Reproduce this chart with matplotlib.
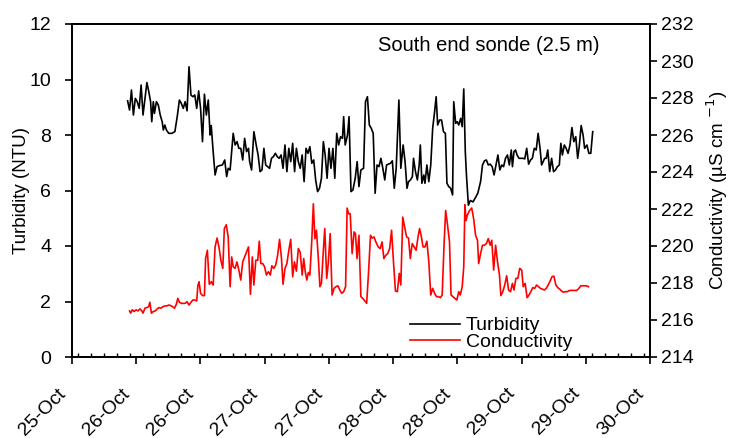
import matplotlib
matplotlib.use("Agg")
import matplotlib.pyplot as plt
import matplotlib.transforms as mtransforms
from matplotlib.ticker import MultipleLocator, FixedLocator

plt.rcParams['font.family'] = ['Liberation Sans', 'DejaVu Sans']

# ---- data (day of October, fractional) ----
turb_day = [26.183, 26.198, 26.213, 26.228, 26.243, 26.258, 26.273, 26.288, 26.303, 26.318,
            26.333, 26.348, 26.362, 26.371, 26.383, 26.392, 26.407, 26.422, 26.437, 26.452,
            26.461, 26.473, 26.485, 26.503, 26.527, 26.551, 26.571, 26.586, 26.601, 26.616,
            26.631, 26.646, 26.661, 26.676, 26.691, 26.706, 26.721, 26.736, 26.751, 26.766,
            26.781, 26.796, 26.811, 26.825, 26.834, 26.849, 26.864, 26.879, 26.900, 26.921,
            26.939, 26.954, 26.966, 26.981, 27.005, 27.020, 27.035, 27.049, 27.064, 27.079,
            27.094, 27.109, 27.124, 27.133, 27.148, 27.166, 27.184, 27.199, 27.214, 27.229,
            27.244, 27.258, 27.273, 27.288, 27.303, 27.318, 27.333, 27.348, 27.363, 27.378,
            27.393, 27.408, 27.423, 27.438, 27.453, 27.468, 27.483, 27.497, 27.512, 27.527,
            27.542, 27.557, 27.572, 27.587, 27.602, 27.617, 27.632, 27.647, 27.662, 27.677,
            27.692, 27.707, 27.721, 27.736, 27.751, 27.766, 27.781, 27.796, 27.811, 27.826,
            27.841, 27.856, 27.865, 27.877, 27.895, 27.907, 27.922, 27.937, 27.955, 27.970,
            27.984, 27.999, 28.020, 28.035, 28.050, 28.065, 28.080, 28.095, 28.110, 28.125,
            28.140, 28.155, 28.170, 28.185, 28.199, 28.214, 28.229, 28.244, 28.259, 28.274,
            28.295, 28.310, 28.328, 28.343, 28.358, 28.370, 28.385, 28.400, 28.409, 28.424,
            28.439, 28.453, 28.462, 28.474, 28.489, 28.498, 28.513, 28.528, 28.543, 28.558,
            28.573, 28.585, 28.597, 28.612, 28.627, 28.642, 28.657, 28.669, 28.683, 28.698,
            28.713, 28.722, 28.737, 28.749, 28.761, 28.776, 28.788, 28.800, 28.812, 28.821,
            28.836, 28.851, 28.872, 28.893, 28.910, 28.931, 28.946, 28.961, 28.976, 28.991,
            29.006, 29.021, 29.036, 29.051, 29.066, 29.081, 29.096, 29.110, 29.125, 29.140,
            29.155, 29.170, 29.179, 29.191, 29.203, 29.215, 29.230, 29.245, 29.260, 29.275,
            29.290, 29.305, 29.320, 29.334, 29.349, 29.364, 29.379, 29.394, 29.406, 29.418,
            29.430, 29.442, 29.454, 29.469, 29.484, 29.499, 29.514, 29.529, 29.544, 29.556,
            29.568, 29.583, 29.597, 29.612, 29.627, 29.642, 29.657, 29.672, 29.687, 29.699,
            29.714, 29.729, 29.741, 29.759, 29.774, 29.789, 29.804]
turbidity = [9.23, 8.90, 9.62, 8.72, 9.32, 9.20, 8.96, 9.80, 8.72, 9.32,
             9.89, 9.56, 9.20, 8.48, 9.20, 8.78, 9.20, 9.08, 8.72, 8.48,
             8.18, 8.36, 8.18, 8.06, 8.06, 8.12, 8.72, 9.26, 9.14, 8.96,
             9.20, 8.87, 10.46, 9.44, 9.38, 9.44, 8.96, 9.59, 8.96, 7.76,
             9.47, 8.72, 9.26, 8.00, 8.34, 7.40, 6.56, 6.86, 6.90, 6.92,
             7.10, 6.50, 6.80, 6.74, 8.06, 7.64, 7.76, 7.52, 7.52, 7.10,
             7.88, 7.40, 7.52, 7.04, 6.74, 8.12, 7.64, 7.28, 6.68, 6.74,
             7.52, 6.92, 6.86, 6.80, 7.16, 7.22, 7.34, 7.22, 7.16, 7.28,
             6.80, 7.64, 6.68, 7.52, 7.04, 7.70, 6.68, 7.52, 7.04, 6.80,
             7.28, 6.32, 7.52, 7.34, 7.58, 6.98, 7.10, 6.38, 5.96, 6.08,
             6.44, 7.76, 7.28, 6.44, 7.52, 6.80, 7.52, 6.44, 8.06, 7.64,
             7.94, 7.88, 8.66, 7.64, 8.00, 8.66, 5.96, 6.02, 6.44, 7.04,
             6.14, 6.74, 6.80, 9.20, 9.38, 8.36, 8.24, 8.06, 5.90, 6.92,
             6.86, 7.16, 6.80, 6.38, 6.92, 6.95, 6.98, 7.07, 6.08, 6.80,
             9.26, 6.80, 7.64, 7.04, 6.08, 6.32, 6.38, 6.50, 7.16, 6.68,
             6.38, 6.92, 7.64, 6.26, 6.56, 6.26, 6.92, 6.32, 6.92, 8.24,
             8.84, 9.38, 8.36, 8.54, 8.54, 8.12, 8.06, 6.26, 6.14, 6.08,
             5.84, 9.20, 8.42, 8.48, 8.36, 8.60, 8.30, 9.66, 7.40, 6.56,
             5.47, 5.64, 5.59, 5.76, 5.91, 6.32, 6.92, 7.07, 7.10, 6.92,
             6.95, 6.86, 6.56, 6.92, 7.28, 6.74, 6.92, 6.86, 7.16, 7.28,
             6.92, 7.46, 6.86, 7.40, 7.46, 7.28, 7.16, 7.16, 7.16, 7.14,
             7.52, 6.95, 7.10, 7.16, 7.52, 7.46, 8.06, 7.52, 6.92, 7.04,
             7.16, 7.16, 7.46, 6.68, 7.16, 6.68, 6.74, 6.86, 6.92, 7.70,
             7.28, 7.64, 7.52, 7.34, 7.64, 8.27, 7.76, 7.94, 7.16, 7.58,
             8.34, 8.00, 7.52, 7.64, 7.34, 7.34, 8.12]

cond_day = [26.198, 26.207, 26.219, 26.234, 26.249, 26.264, 26.279, 26.294, 26.303, 26.318,
            26.332, 26.347, 26.356, 26.368, 26.383, 26.398, 26.413, 26.428, 26.443, 26.458,
            26.473, 26.488, 26.503, 26.518, 26.533, 26.548, 26.562, 26.574, 26.586, 26.601,
            26.616, 26.631, 26.646, 26.661, 26.676, 26.691, 26.706, 26.721, 26.730, 26.739,
            26.751, 26.766, 26.781, 26.790, 26.804, 26.819, 26.834, 26.849, 26.864, 26.879,
            26.894, 26.909, 26.924, 26.936, 26.951, 26.966, 26.981, 26.993, 27.005, 27.020,
            27.034, 27.049, 27.064, 27.079, 27.094, 27.109, 27.124, 27.139, 27.154, 27.166,
            27.181, 27.196, 27.208, 27.220, 27.235, 27.249, 27.264, 27.279, 27.294, 27.306,
            27.321, 27.336, 27.351, 27.366, 27.381, 27.393, 27.408, 27.423, 27.438, 27.453,
            27.468, 27.482, 27.497, 27.512, 27.527, 27.542, 27.554, 27.566, 27.578, 27.590,
            27.602, 27.617, 27.629, 27.641, 27.653, 27.668, 27.680, 27.692, 27.707, 27.718,
            27.733, 27.745, 27.760, 27.775, 27.790, 27.805, 27.820, 27.835, 27.850, 27.865,
            27.880, 27.892, 27.904, 27.916, 27.931, 27.946, 27.957, 27.969, 27.984, 27.999,
            28.014, 28.029, 28.044, 28.059, 28.074, 28.086, 28.101, 28.116, 28.134, 28.149,
            28.164, 28.178, 28.193, 28.208, 28.223, 28.238, 28.253, 28.268, 28.283, 28.298,
            28.310, 28.325, 28.340, 28.355, 28.370, 28.384, 28.399, 28.414, 28.429, 28.444,
            28.456, 28.468, 28.483, 28.498, 28.513, 28.528, 28.543, 28.558, 28.573, 28.588,
            28.603, 28.618, 28.632, 28.647, 28.659, 28.674, 28.689, 28.701, 28.716, 28.731,
            28.746, 28.761, 28.773, 28.788, 28.800, 28.809, 28.818, 28.827, 28.845, 28.862,
            28.877, 28.892, 28.907, 28.916, 28.931, 28.946, 28.961, 28.976, 28.991, 29.006,
            29.018, 29.033, 29.048, 29.063, 29.078, 29.089, 29.104, 29.119, 29.134, 29.149,
            29.164, 29.179, 29.191, 29.206, 29.221, 29.236, 29.251, 29.263, 29.278, 29.293,
            29.308, 29.322, 29.337, 29.352, 29.367, 29.382, 29.397, 29.412, 29.427, 29.442,
            29.457, 29.472, 29.487, 29.502, 29.517, 29.532, 29.547, 29.561, 29.576, 29.591,
            29.606, 29.621, 29.636, 29.651, 29.666, 29.681, 29.696, 29.711, 29.726, 29.741,
            29.755, 29.771]
conductivity = [216.49, 216.37, 216.55, 216.46, 216.55, 216.49, 216.60, 216.49, 216.37, 216.64,
                216.67, 216.72, 216.96, 216.37, 216.46, 216.49, 216.60, 216.67, 216.64, 216.72,
                216.76, 216.76, 216.81, 216.78, 216.72, 216.64, 216.85, 217.17, 216.96, 216.90,
                216.90, 216.90, 216.99, 216.81, 216.96, 217.08, 217.08, 217.03, 217.85, 218.07,
                217.44, 217.32, 217.32, 219.32, 219.77, 217.93, 218.07, 217.89, 219.95, 220.43,
                219.95, 219.23, 218.79, 220.94, 221.15, 220.49, 217.80, 219.41, 218.88, 218.79,
                219.14, 218.70, 218.16, 219.14, 219.41, 219.68, 219.95, 217.39, 219.41, 217.89,
                219.23, 219.23, 220.26, 219.05, 219.05, 218.88, 218.43, 218.61, 218.43, 218.93,
                218.79, 218.97, 219.50, 220.36, 219.32, 217.93, 218.79, 219.05, 219.77, 220.36,
                218.34, 219.14, 218.64, 219.86, 219.65, 218.43, 219.32, 218.61, 218.16, 218.57,
                218.43, 220.31, 222.28, 220.40, 220.85, 219.32, 217.80, 217.98, 219.77, 220.94,
                218.25, 219.05, 220.67, 217.35, 217.71, 217.80, 217.85, 217.62, 217.44, 217.53,
                217.80, 222.05, 221.74, 221.74, 219.59, 220.76, 220.67, 219.32, 220.58, 217.26,
                217.17, 217.03, 216.90, 218.61, 220.58, 220.43, 220.49, 220.22, 219.95, 219.86,
                220.22, 219.32, 219.50, 219.59, 219.86, 220.85, 219.14, 217.57, 217.53, 218.52,
                217.89, 221.56, 221.03, 220.49, 220.43, 219.32, 220.13, 219.95, 219.77, 220.49,
                220.94, 220.58, 219.95, 219.95, 220.26, 219.14, 217.35, 217.71, 217.44, 217.26,
                217.26, 217.21, 217.35, 220.13, 221.92, 221.12, 220.22, 217.35, 217.26, 217.17,
                217.08, 217.53, 217.35, 217.80, 218.88, 222.23, 221.38, 221.65, 221.92, 222.05,
                221.47, 220.58, 220.31, 219.05, 219.59, 220.04, 220.04, 220.13, 220.40, 220.04,
                220.31, 218.70, 220.04, 219.14, 218.43, 217.32, 217.53, 217.89, 218.39, 217.62,
                217.53, 217.98, 217.62, 218.25, 218.25, 218.79, 218.70, 217.80, 217.98, 217.21,
                217.35, 217.53, 217.75, 217.71, 217.89, 217.80, 217.71, 217.67, 217.62, 217.71,
                217.89, 218.10, 218.34, 218.37, 217.89, 217.75, 217.67, 217.57, 217.50, 217.53,
                217.53, 217.59, 217.60, 217.60, 217.60, 217.60, 217.71, 217.85, 217.85, 217.85,
                217.85, 217.80]

tick_days = [25.75, 26.25, 26.75, 27.25, 27.75, 28.25, 28.75, 29.25, 29.75, 30.25]
tick_labels = ['25-Oct', '26-Oct', '26-Oct', '27-Oct', '27-Oct',
               '28-Oct', '28-Oct', '29-Oct', '29-Oct', '30-Oct']

# ---- figure ----
fig = plt.figure(figsize=(7.33, 4.38), dpi=100)
ax = fig.add_axes([72/733, 1-357/438, (650-72)/733, (357-24)/438])
ax2 = ax.twinx()

l1, = ax.plot(turb_day, turbidity, color='black', lw=1.2)
l2, = ax2.plot(cond_day, conductivity, color='#ff0000', lw=1.2)

ax.set_xlim(25.75, 30.25)
ax.set_ylim(0, 12)
ax2.set_ylim(214, 232)
ax.set_yticks(range(0, 13, 2))
ax2.set_yticks(range(214, 233, 2))

ax.xaxis.set_major_locator(FixedLocator(tick_days))
ax.set_xticklabels(tick_labels, rotation=45, ha='right', va='center',
                   rotation_mode='anchor')
ax.xaxis.set_minor_locator(MultipleLocator(0.1))
ax.tick_params(axis='x', which='major', direction='out', length=5, width=1.2, pad=19.5, labelsize=14)
ax.tick_params(axis='x', which='minor', direction='in', length=3, width=1.0)
ax.tick_params(axis='y', direction='out', length=5, width=1.2, labelsize=14, pad=10)
ax2.tick_params(axis='y', direction='out', length=5, width=1.2, labelsize=14, pad=3)

shift = mtransforms.ScaledTranslation(-9/100, 0, fig.dpi_scale_trans)
for lbl in ax.get_xticklabels():
    lbl.set_transform(lbl.get_transform() + shift)

for a in (ax, ax2):
    for s in a.spines.values():
        s.set_linewidth(1.3)

ax.set_ylabel('Turbidity (NTU)', fontsize=13.5)
ax.yaxis.set_label_coords(-0.072, 0.5)
ax2.set_ylabel('Conductivity (µS cm $^{-1}$)', fontsize=13.5, labelpad=8)

ax.text(0.913, 0.935, 'South end sonde (2.5 m)', transform=ax.transAxes,
        ha='right', va='center', fontsize=14.5)

fig.legend([l1, l2], ['Turbidity', 'Conductivity'], loc='upper left',
           bbox_to_anchor=(400/733, 1-307/438), frameon=False, fontsize=14,
           handlelength=2.6, handletextpad=0.3, labelspacing=-0.05, borderpad=0)

fig.savefig('out.png', dpi=100)
